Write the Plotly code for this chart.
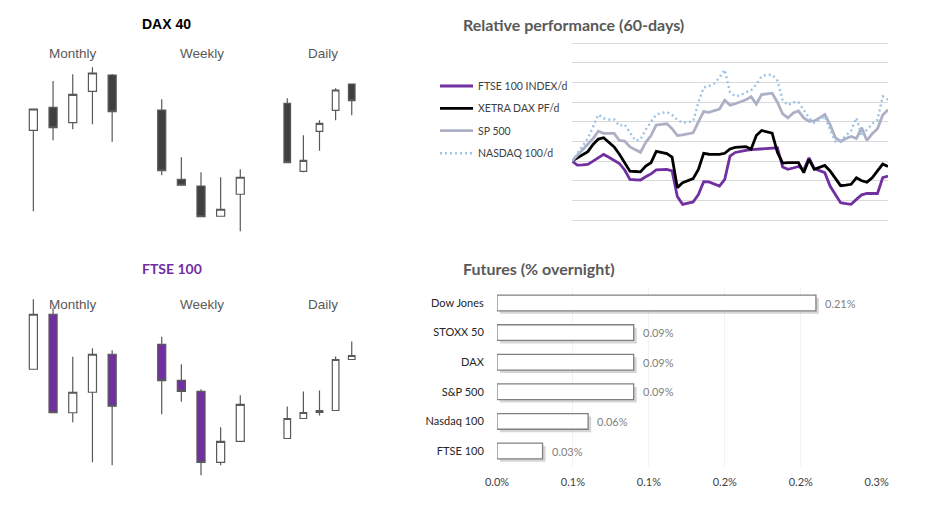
import plotly.graph_objects as go

W, H = 931, 513

# ---------------- data ----------------
candle_x = [0, 1, 2, 3, 4]

dax_m_open = [18297, 18527, 18373, 18687, 18850]
dax_m_high = [18510, 18790, 18857, 18927, 18860]
dax_m_low = [17487, 18197, 18307, 18357, 18183]
dax_m_close = [18510, 18323, 18657, 18870, 18483]

dax_w_open = [18400, 18123, 18096, 17975, 18063]
dax_w_high = [18443, 18211, 18151, 18131, 18163]
dax_w_low = [18139, 18099, 17973, 17975, 17915]
dax_w_close = [18157, 18099, 17973, 18003, 18131]

dax_d_open = [18370, 18166, 18286, 18349, 18428]
dax_d_high = [18385, 18274, 18319, 18415, 18428]
dax_d_low = [18190, 18163, 18228, 18319, 18334]
dax_d_close = [18192, 18199, 18310, 18410, 18378]

ftse_m_open = [7806, 8246, 7458, 7622, 7926]
ftse_m_high = [8366, 8294, 7906, 7974, 7958]
ftse_m_low = [7806, 7458, 7382, 7062, 7038]
ftse_m_close = [8246, 7458, 7622, 7926, 7510]

ftse_w_open = [8152, 8044, 8011, 7798, 7861]
ftse_w_high = [8175, 8092, 8017, 7903, 7999]
ftse_w_low = [7942, 7980, 7759, 7789, 7861]
ftse_w_close = [8043, 8011, 7798, 7861, 7972]

ftse_d_open = [7963, 8003, 8015, 8019, 8121]
ftse_d_high = [8027, 8057, 8059, 8127, 8157]
ftse_d_low = [7963, 8003, 8009, 8019, 8121]
ftse_d_close = [8003, 8015, 8019, 8121, 8129]

days = list(range(61))
ftse_perf = [0, -0.2, -0.19, -0.17, 0.0, 0.17, 0.34, 0.2, 0.05, -0.12,
             -0.45, -0.93, -0.95, -0.96, -0.8, -0.65, -0.45, -0.42, -0.42, -0.5,
             -1.8, -2.2, -2.15, -2.08, -1.7, -1.05, -1.06, -1.15, -1.27, -0.93,
             0.25, 0.44, 0.5, 0.55, 0.58, 0.6, 0.62, 0.64, 0.66, 0.68,
             -0.3, -0.42, -0.35, -0.27, -0.45, 0.17, -0.38, -0.5, -0.59, -1.27,
             -1.7, -2.12, -2.16, -2.2, -1.95, -1.72, -1.65, -1.65, -1.65, -0.84, -0.76]
dax_perf = [0, 0.15, 0.3, 0.48, 0.85, 1.12, 1.19, 0.95, 0.72, 0.35,
            -0.05, -0.51, -0.53, -0.55, -0.25, -0.08, 0.5, 0.44, 0.38, 0.2,
            -1.35, -1.1, -1.0, -0.89, -0.42, 0.4, 0.35, 0.34, 0.34, 0.4,
            0.62, 0.7, 0.72, 0.74, 0.6, 1.3, 1.56, 1.5, 1.42, 0.45,
            -0.1, -0.08, -0.08, -0.08, -0.59, 0.09, -0.42, -0.32, -0.22, -0.5,
            -0.85, -1.25, -1.22, -1.18, -0.85, -1.0, -1.07, -0.85, -0.5, -0.15, -0.28]
sp_perf = [0, 0.28, 0.55, 0.82, 1.15, 1.52, 1.41, 1.41, 1.41, 1.05,
           1.02, 0.72, 0.58, 0.45, 0.95, 1.3, 1.84, 1.88, 1.9, 1.65,
           1.3, 1.33, 1.38, 1.44, 2.0, 2.52, 2.48, 2.55, 2.65, 3.1,
           2.85, 2.92, 3.02, 3.12, 3.28, 2.9, 3.39, 3.42, 3.46, 3.0,
           2.4, 2.2, 2.45, 2.55, 2.2, 2.03, 2.05, 2.2, 2.37, 1.86,
           1.2, 1.0, 1.15, 1.25, 1.15, 1.7, 1.05, 1.4, 1.65, 2.35, 2.62]
ndx_perf = [0, 0.4, 0.75, 1.15, 1.75, 2.37, 2.18, 2.12, 2.12, 1.8,
            1.86, 1.45, 1.05, 1.1, 1.6, 2.0, 2.37, 2.45, 2.5, 2.35,
            2.1, 1.95, 2.0, 2.03, 3.0, 3.75, 3.82, 3.95, 4.25, 4.65,
            3.5, 3.3, 3.35, 3.5, 3.6, 3.9, 4.31, 4.4, 4.4, 4.1,
            3.1, 2.85, 3.0, 3.0, 2.6, 2.2, 1.95, 2.1, 2.28, 1.61,
            1.0, 1.05, 1.3, 1.55, 2.2, 1.27, 1.6, 1.9, 2.1, 3.3, 3.13]
line_names = ["FTSE 100 INDEX/d", "XETRA DAX PF/d", "SP 500", "NASDAQ 100/d"]

fut_names = ["Dow Jones", "STOXX 50", "DAX", "S&P 500", "Nasdaq 100", "FTSE 100"]
fut_vals = [0.0021, 0.0009, 0.0009, 0.0009, 0.0006, 0.0003]
fut_tickvals = [0, 0.0005, 0.001, 0.0015, 0.002, 0.0025]
fut_ticktext = ["0.0%", "0.1%", "0.1%", "0.2%", "0.2%", "0.3%"]

# ---------------- helpers ----------------
def dx(a, b):
    return [a / W, b / W]

def dy(top, bottom):
    return [1 - bottom / H, 1 - top / H]

PURPLE = "#7030A0"
DARK = "#404040"
EDGE = "#595959"

fig = go.Figure()
layout = dict(
    width=W, height=H, margin=dict(l=0, r=0, t=0, b=0, autoexpand=False),
    paper_bgcolor="white", plot_bgcolor="rgba(0,0,0,0)",
    showlegend=False, boxgap=0.59, boxgroupgap=0, barmode="overlay",
)

panels = [
    (dax_m_open, dax_m_high, dax_m_low, dax_m_close, (23.5, 122), (60, 235), [17250, 19000], DARK),
    (dax_w_open, dax_w_high, dax_w_low, dax_w_close, (151.9, 250.1), (60, 235), [17900, 18600], DARK),
    (dax_d_open, dax_d_high, dax_d_low, dax_d_close, (279.2, 359.8), (60, 235), [17975, 18500], DARK),
    (ftse_m_open, ftse_m_high, ftse_m_low, ftse_m_close, (23.5, 122), (295, 480), [6920, 8400], PURPLE),
    (ftse_w_open, ftse_w_high, ftse_w_low, ftse_w_close, (151.9, 250.1), (295, 480), [7745, 8300], PURPLE),
    (ftse_d_open, ftse_d_high, ftse_d_low, ftse_d_close, (279.2, 359.8), (295, 480), [7880, 8250], PURPLE),
]

for i, (o, h, l, c, xd, yd, yr, col) in enumerate(panels, start=1):
    fig.add_trace(go.Candlestick(
        x=candle_x, open=o, high=h, low=l, close=c,
        xaxis=f"x{i}", yaxis=f"y{i}", whiskerwidth=0,
        increasing=dict(fillcolor="white", line=dict(color=EDGE, width=1.2)),
        decreasing=dict(fillcolor=col, line=dict(color=EDGE, width=1.2)),
        hoverinfo="skip",
    ))
    layout[f"xaxis{i}"] = dict(domain=dx(*xd), range=[-0.5, 4.5], visible=False,
                               rangeslider=dict(visible=False), anchor=f"y{i}")
    layout[f"yaxis{i}"] = dict(domain=dy(*yd), range=yr, visible=False, anchor=f"x{i}")

# ---------------- relative performance lines ----------------
line_styles = [
    dict(color=PURPLE, width=2.8),
    dict(color="#000000", width=2.8),
    dict(color="#ADB0C4", width=2.8),
    dict(color="#9DC3E6", width=2.4, dash="2px,3px"),
]
for name, vals, st in zip(line_names, [ftse_perf, dax_perf, sp_perf, ndx_perf], line_styles):
    fig.add_trace(go.Scatter(x=days, y=vals, mode="lines", name=name, line=st,
                             xaxis="x7", yaxis="y7", hoverinfo="skip"))
layout["xaxis7"] = dict(domain=dx(572, 888), range=[0, 60], visible=False, anchor="y7")
layout["yaxis7"] = dict(domain=dy(41.3, 222), range=[-3.1, 6.1], dtick=1, tick0=0,
                        showgrid=True, gridcolor="#D9D9D9", gridwidth=1,
                        zeroline=False, showticklabels=False, showline=False,
                        anchor="x7")

# ---------------- futures bars ----------------
fig.add_trace(go.Bar(
    x=fut_vals, y=fut_names, orientation="h", base=0.00002,
    width=0.53, offset=-0.265 + 0.1,
    marker=dict(color="rgba(0,0,0,0.16)", line=dict(width=0)),
    xaxis="x8", yaxis="y8", hoverinfo="skip",
))
fig.add_trace(go.Bar(
    x=fut_vals, y=fut_names, orientation="h", width=0.53,
    marker=dict(color="white", line=dict(color="#808080", width=1.3)),
    xaxis="x8", yaxis="y8", hoverinfo="skip",
))
layout["xaxis8"] = dict(domain=dx(497, 876.7), range=[0, 0.0025],
                        tickvals=fut_tickvals, ticktext=fut_ticktext,
                        showgrid=True, gridcolor="#F2F2F2", zeroline=False,
                        showline=False, ticks="outside", ticklen=6,
                        tickcolor="rgba(0,0,0,0)",
                        tickfont=dict(family="Lato", size=11, color="#404040"),
                        anchor="y8")
layout["yaxis8"] = dict(domain=dy(288.2, 465.8), type="category",
                        categoryorder="array", categoryarray=fut_names,
                        range=[5.5, -0.5], showgrid=False, zeroline=False,
                        showline=False, ticks="outside", ticklen=10,
                        tickcolor="rgba(0,0,0,0)",
                        tickfont=dict(family="Lato", size=11, color="#262626"),
                        anchor="x8")

fig.update_layout(**layout)

annotations = []
for name, v in zip(fut_names, fut_vals):
    annotations.append(dict(x=v, y=name, xref="x8", yref="y8", xanchor="left",
                            xshift=7, showarrow=False, text=f"{v*100:.2f}%",
                            font=dict(family="Lato", size=11, color="#7F7F7F")))

def text(x, y, s, size, color, family, bold=False, anchor="center"):
    annotations.append(dict(x=x / W, y=1 - y / H, xref="paper", yref="paper",
                            xanchor=anchor, yanchor="middle", showarrow=False,
                            borderpad=0, text=f"<b>{s}</b>" if bold else s,
                            font=dict(family=family, size=size, color=color)))

text(141, 24, "DAX 40", 14, "#000000", "Liberation Sans", True, "left")
text(141, 268, "FTSE 100", 14, PURPLE, "Lato", True, "left")
text(462, 24, "Relative performance (60-days)", 16, "#595959", "Lato", True, "left")
text(462, 268, "Futures (% overnight)", 16, "#595959", "Lato", True, "left")
for yy in (53, 304):
    text(73, yy, "Monthly", 13.5, "#595959", "Liberation Sans")
    text(201.5, yy, "Weekly", 13.5, "#595959", "Liberation Sans")
    text(322.5, yy, "Daily", 13.5, "#595959", "Liberation Sans")

# manual legend for the line chart
shapes = []
leg_y = [86, 108.3, 130.7, 153.3]
for name, st, yy in zip(line_names, line_styles, leg_y):
    shapes.append(dict(type="line", xref="paper", yref="paper",
                       x0=440 / W, x1=473 / W, y0=1 - yy / H, y1=1 - yy / H,
                       line=st))
    text(477, yy, name, 10.5, "#404040", "Lato", False, "left")

fig.update_layout(annotations=annotations, shapes=shapes)
fig.write_html(
    "out.html",
    config={"displayModeBar": False},
    post_script="document.body.style.margin='0';document.body.style.overflow='hidden';",
)
